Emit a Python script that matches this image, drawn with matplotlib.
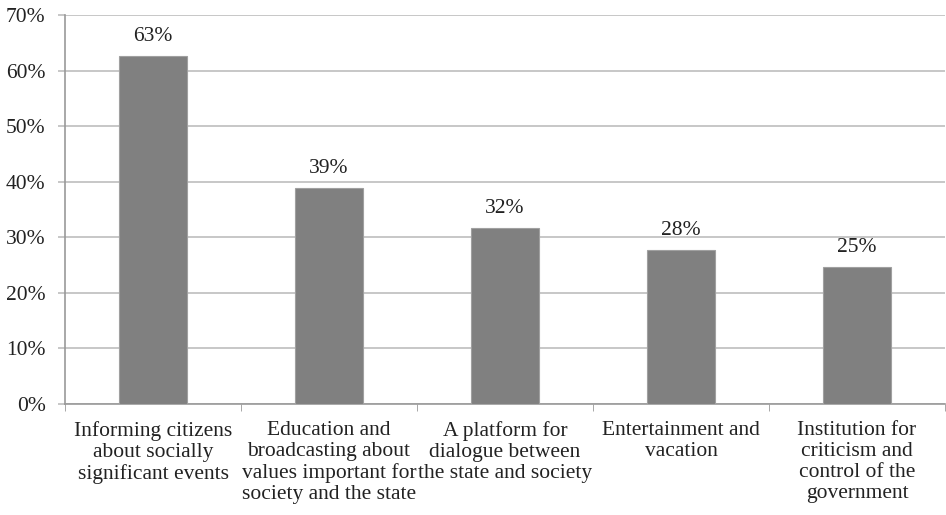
import matplotlib.pyplot as plt
import numpy as np

categories = ["Informing citizens\nabout socially\nsignificant events",
              "Education and\nbroadcasting about\nvalues important for\nsociety and the state",
              "A platform for\ndialogue between\nthe state and society",
              "Entertainment and\nvacation",
              "Institution for\ncriticism and\ncontrol of the\ngovernment"]
values = [62.6, 38.8, 31.6, 27.8, 24.7]
labels = ["63%", "39%", "32%", "28%", "25%"]
yticks = [0, 10, 20, 30, 40, 50, 60, 70]

plt.rcParams['font.family'] = ['Liberation Serif', 'DejaVu Serif']
fs = 15.5

fig = plt.figure(figsize=(9.46, 5.15), dpi=100)
ax = fig.add_axes([65/946, 111/515, 880/946, 389/515])

x = np.arange(len(categories))
ax.bar(x, values, width=0.39, color="#808080", edgecolor="#a0a0a0", linewidth=0.8, zorder=3)
for xi, v, t in zip(x, values, labels):
    ax.text(xi, v + 1.8, t, ha="center", va="bottom", fontsize=fs, color="#222222")

ax.set_xlim(-0.5, len(categories) - 0.5)
ax.set_ylim(0, 70)
ax.set_yticks(yticks)
ax.set_yticklabels([f"{t}%" for t in yticks], fontsize=fs, color="#222222")
ax.yaxis.grid(True, color="#bdbdbd", linewidth=1.2, zorder=0)
ax.tick_params(axis="y", length=5, width=1.2, color="#bdbdbd", pad=9)

ax.set_xticks(x)
ax.set_xticklabels(categories, fontsize=fs, color="#222222", linespacing=1.16)
ax.set_xticks(np.arange(len(categories) + 1) - 0.5, minor=True)
ax.tick_params(axis="x", which="major", length=0, pad=12)
ax.tick_params(axis="x", which="minor", length=5, color="#999999")

for s in ["top", "right"]:
    ax.spines[s].set_visible(False)
ax.spines["left"].set_color("#999999")
ax.spines["bottom"].set_color("#999999")
ax.spines["left"].set_linewidth(1.2)
ax.spines["bottom"].set_linewidth(1.2)

fig.savefig("out.png", dpi=100)
